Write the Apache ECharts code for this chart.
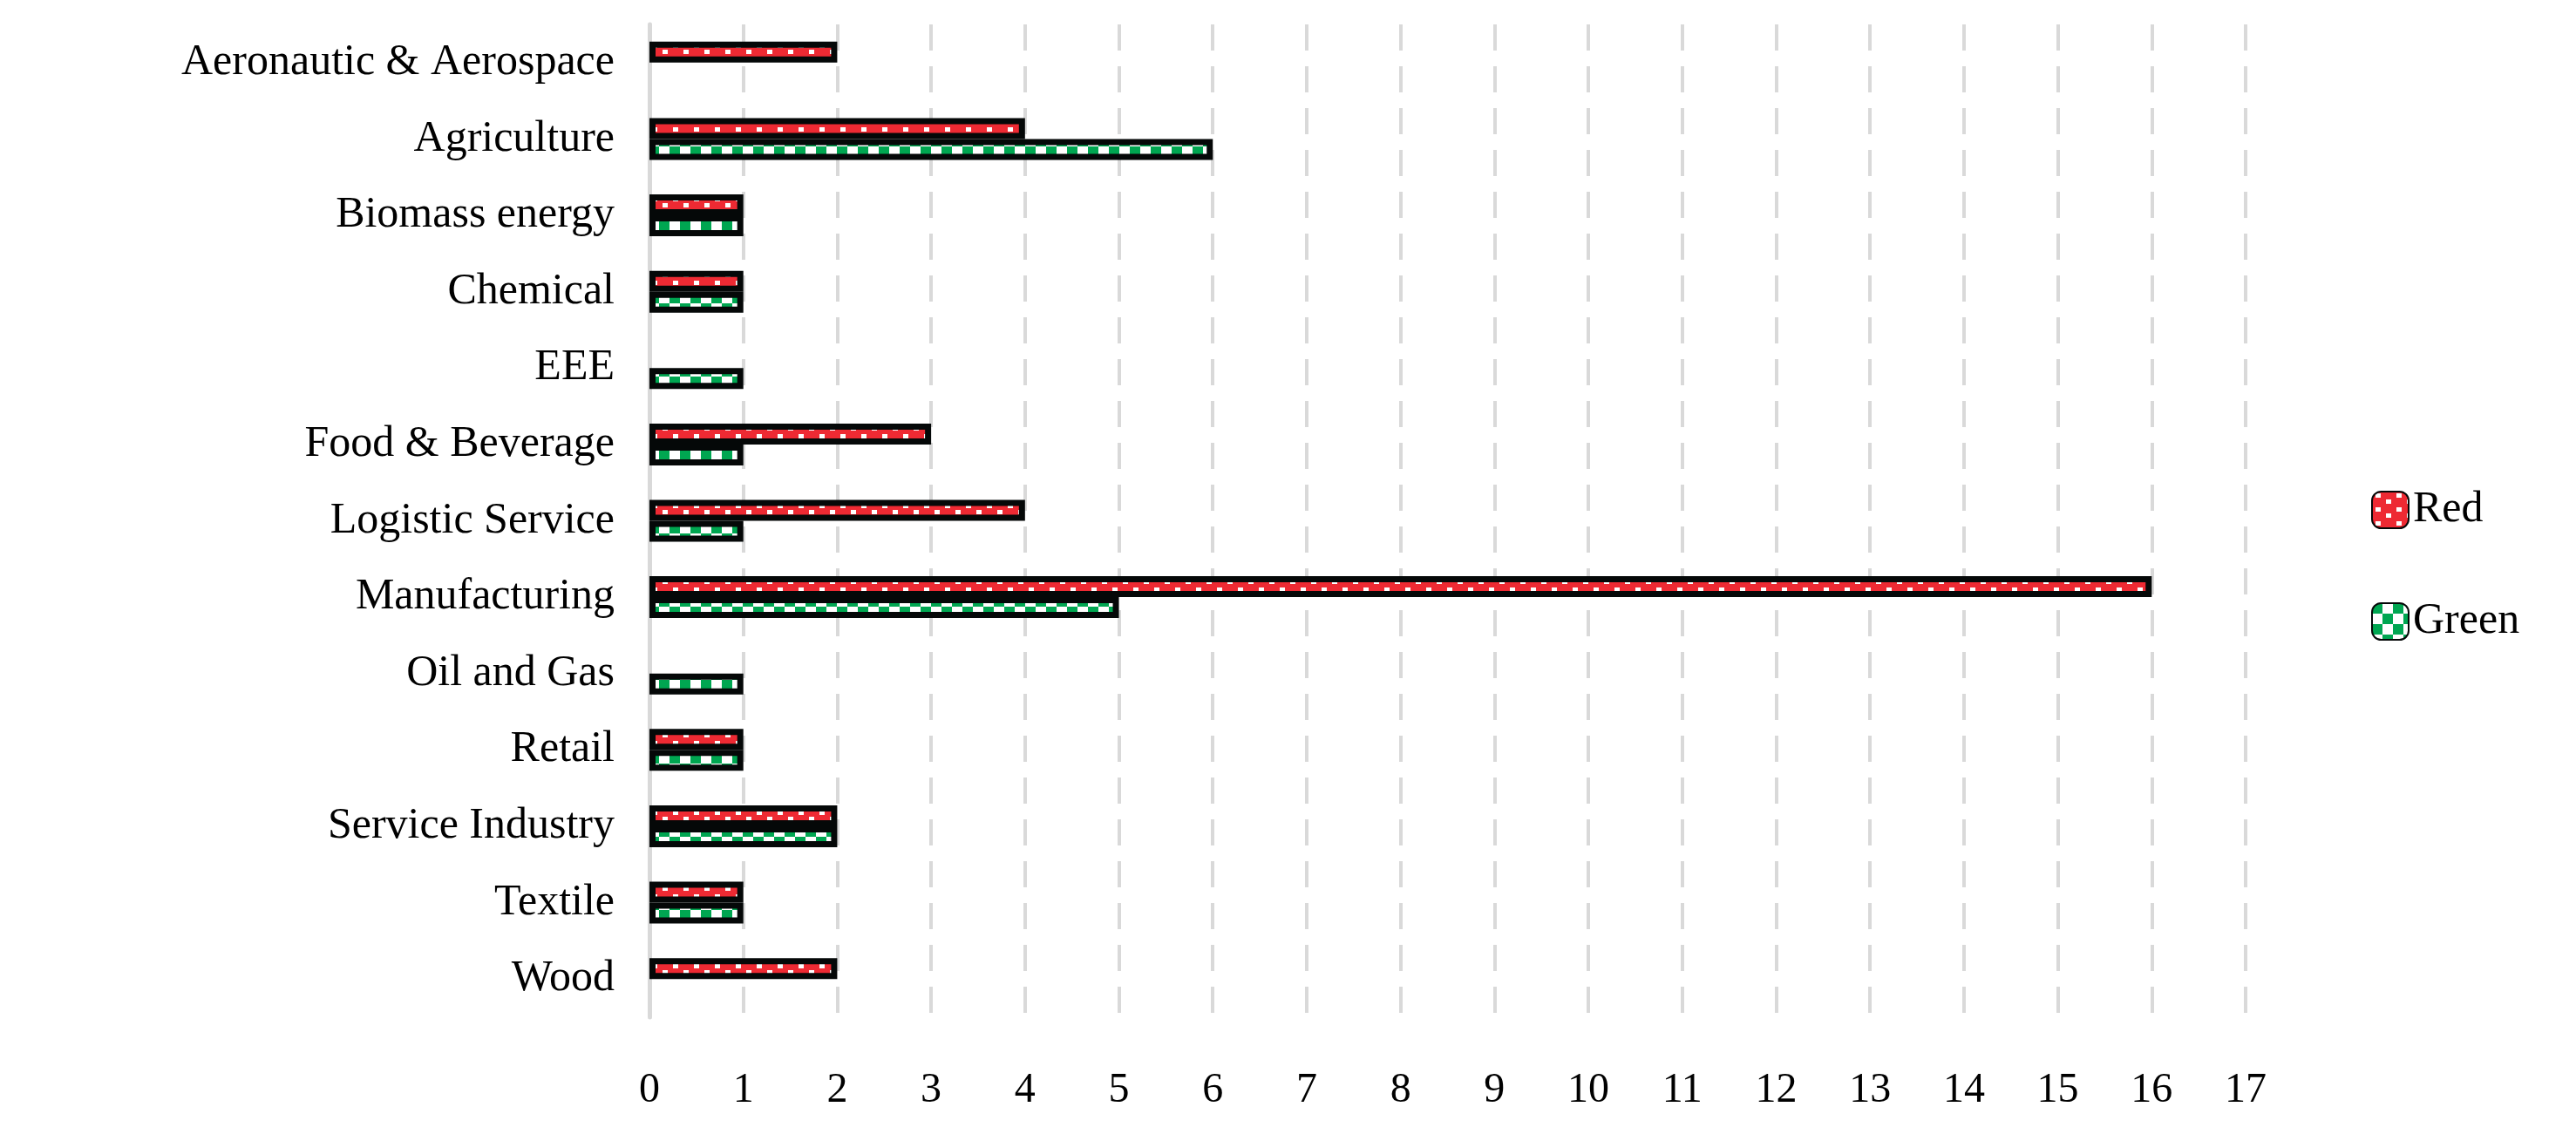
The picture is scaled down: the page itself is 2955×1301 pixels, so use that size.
<!DOCTYPE html>
<html>
<head>
<meta charset="utf-8">
<script src="https://cdn.jsdelivr.net/npm/echarts@6/dist/echarts.min.js"></script>
<style>
  html, body { margin: 0; padding: 0; background: #fff; }
  #chart { width: 2955px; height: 1301px; }
</style>
</head>
<body>
<div id="chart"></div>
<script>
const categories = [
  "Aeronautic & Aerospace", "Agriculture", "Biomass energy", "Chemical", "EEE",
  "Food & Beverage", "Logistic Service", "Manufacturing", "Oil and Gas",
  "Retail", "Service Industry", "Textile", "Wood"
];
// null = no bar in the picture
const redValues = [2, 4, 1, 1, null, 3, 4, 16, null, 1, 2, 1, 2];
const greenValues = [null, 6, 1, 1, 1, 1, 1, 5, 1, 1, 2, 1, null];
const xTicks = [0, 17, 1];

// red with staggered white dots
function redPattern() {
  const c = document.createElement("canvas");
  c.width = 24; c.height = 16;
  const g = c.getContext("2d");
  g.fillStyle = "#ee2a33";
  g.fillRect(0, 0, 24, 16);
  g.fillStyle = "#fff";
  g.fillRect(4, 2, 6, 5);
  g.fillRect(16, 9, 6, 5);
  return c;
}

// green / white checkerboard
function greenPattern() {
  const c = document.createElement("canvas");
  c.width = 24; c.height = 24;
  const g = c.getContext("2d");
  g.fillStyle = "#fff";
  g.fillRect(0, 0, 24, 24);
  g.fillStyle = "#00a651";
  g.fillRect(0, 0, 12, 12);
  g.fillRect(12, 12, 12, 12);
  return c;
}

const chart = echarts.init(document.getElementById("chart"));
const font = "Liberation Serif";

chart.setOption({
  backgroundColor: "#fff",
  animation: false,
  textStyle: { fontFamily: font },
  grid: { left: 745, right: 379, top: 28, bottom: 134 },
  legend: {
    orient: "vertical",
    left: 2715,
    top: 555,
    itemGap: 78,
    itemWidth: 42,
    itemHeight: 42,
    textStyle: { fontFamily: font, fontSize: 50, color: "#000" },
    data: ["Red", "Green"]
  },
  xAxis: {
    type: "value",
    min: xTicks[0],
    max: xTicks[1],
    interval: xTicks[2],
    axisLine: { show: false },
    axisTick: { show: false },
    axisLabel: { fontFamily: font, fontSize: 48, color: "#000", margin: 60 },
    splitLine: {
      show: true,
      lineStyle: { color: "#d9d9d9", width: 4, type: [30, 18] }
    }
  },
  yAxis: {
    type: "category",
    inverse: true,
    data: categories,
    axisLine: { show: true, lineStyle: { color: "#d9d9d9", width: 5 } },
    axisTick: { show: false },
    axisLabel: { fontFamily: font, fontSize: 50, color: "#000", margin: 40 }
  },
  series: [
    {
      name: "Red",
      type: "bar",
      data: redValues,
      barWidth: 24,
      barGap: "0%",
      itemStyle: {
        color: { image: redPattern(), repeat: "repeat" },
        borderColor: "#050808",
        borderWidth: 7
      }
    },
    {
      name: "Green",
      type: "bar",
      data: greenValues,
      barWidth: 24,
      barGap: "0%",
      itemStyle: {
        color: { image: greenPattern(), repeat: "repeat" },
        borderColor: "#050808",
        borderWidth: 7
      }
    }
  ]
});
</script>
</body>
</html>
